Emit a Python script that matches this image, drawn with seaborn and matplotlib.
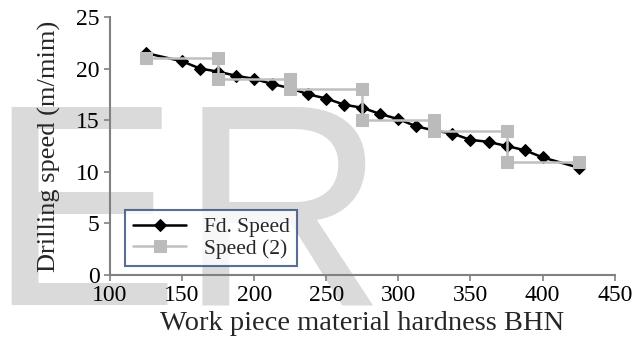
import numpy as np
import pandas as pd
import seaborn as sns
import matplotlib.pyplot as plt

# Fd. Speed series
hardness_fd = [125, 150, 162.5, 175, 187.5, 200, 212.5, 225, 237.5, 250, 262.5,
               275, 287.5, 300, 312.5, 325, 337.5, 350, 362.5, 375, 387.5, 400, 425]
speed_fd = [21.5, 20.7, 20.0, 19.7, 19.3, 19.0, 18.5, 18.1, 17.5, 17.1, 16.5,
            16.2, 15.6, 15.1, 14.4, 14.0, 13.7, 13.1, 12.9, 12.5, 12.1, 11.4, 10.4]

# Speed (2) series (step shape)
hardness_s2 = [125, 175, 175, 225, 225, 275, 275, 325, 325, 375, 375, 425]
speed_s2 = [21, 21, 19, 19, 18, 18, 15, 15, 14, 14, 11, 11]

x_ticks = [100, 150, 200, 250, 300, 350, 400, 450]
y_ticks = [0, 5, 10, 15, 20, 25]

sns.set_style("ticks")
plt.rcParams["font.family"] = ["Liberation Serif", "DejaVu Serif"]

fig = plt.figure(figsize=(6.43, 3.38), dpi=100)
ax = fig.add_axes([0.171, 0.186, 0.785, 0.764])
ax.patch.set_visible(False)

# light grey "ER" watermark behind the chart
fig.text(-0.02, 0.098, "ER", fontsize=207, color="#dadada",
         family="Liberation Sans", va="baseline", ha="left", zorder=-1)

sns.lineplot(x=hardness_fd, y=speed_fd, ax=ax, estimator=None, sort=False,
             color="black", linewidth=1.8, marker="D", markersize=6.5,
             markeredgecolor="black", label="Fd. Speed")
sns.lineplot(x=hardness_s2, y=speed_s2, ax=ax, estimator=None, sort=False,
             color="#c0c0c0", linewidth=1.8, marker="s", markersize=8.5,
             markeredgecolor="#bbbbbb", markerfacecolor="#bbbbbb", label="Speed (2)")

ax.set_xlim(100, 450)
ax.set_ylim(0, 25)
ax.set_xticks(x_ticks)
ax.set_yticks(y_ticks)
ax.tick_params(axis="both", labelsize=17, colors="#808080", labelcolor="black",
               length=4, width=1.2)
ax.tick_params(axis="x", pad=3)
for s in ["top", "right"]:
    ax.spines[s].set_visible(False)
for s in ["left", "bottom"]:
    ax.spines[s].set_color("#808080")
    ax.spines[s].set_linewidth(1.5)

ax.set_xlabel("Work piece material hardness BHN", fontsize=20.5, labelpad=4)
ax.set_ylabel("Drilling speed (m/mim)", fontsize=19, labelpad=11)

leg = ax.legend(loc="lower left", bbox_to_anchor=(0.03, 0.035), fontsize=15.5,
                frameon=True, fancybox=False, handlelength=2.5,
                handletextpad=0.8, borderpad=0.35, labelspacing=0.05,
                borderaxespad=0)
leg.get_frame().set_edgecolor("#2f4a78")
leg.get_frame().set_linewidth(1.5)

fig.savefig("out.png", dpi=100)
